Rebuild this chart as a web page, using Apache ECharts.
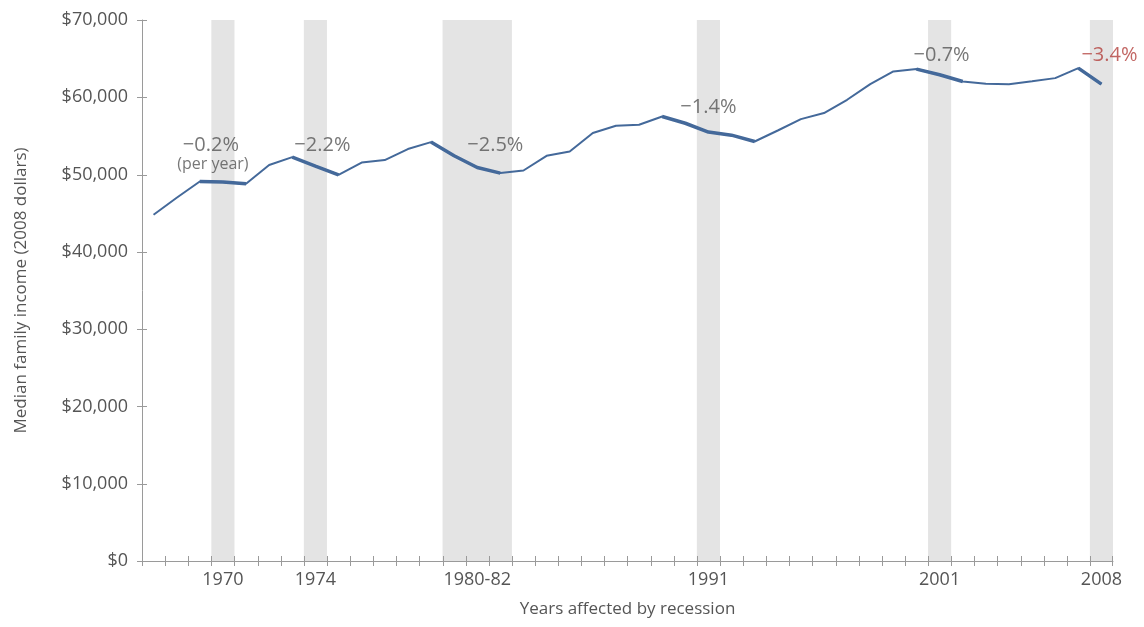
<!DOCTYPE html>
<html>
<head>
<meta charset="utf-8">
<script src="https://cdn.jsdelivr.net/npm/echarts@6/dist/echarts.min.js"></script>
<style>
  html, body { margin: 0; padding: 0; background: #ffffff; }
  #chart { width: 1144px; height: 627px; }
</style>
</head>
<body>
<div id="chart"></div>
<script>
// ---- data ----
const years = ['1967','1968','1969','1970','1971','1972','1973','1974','1975','1976',
  '1977','1978','1979','1980','1981','1982','1983','1984','1985','1986',
  '1987','1988','1989','1990','1991','1992','1993','1994','1995','1996',
  '1997','1998','1999','2000','2001','2002','2003','2004','2005','2006',
  '2007','2008'];
const income = [44800, 47000, 49110, 49030, 48810, 51230, 52260, 51100, 49970, 51560,
  51870, 53300, 54200, 52430, 50920, 50190, 50530, 52430, 52990, 55370,
  56310, 56440, 57520, 56640, 55500, 55100, 54280, 55700, 57170, 57960,
  59680, 61700, 63340, 63650, 62910, 62040, 61750, 61700, 62070, 62480,
  63780, 61700];
const recessionPeriods = [['1970','1970'],['1974','1974'],['1980','1982'],['1991','1991'],['2001','2001'],['2008','2008']];
const declineRanges = [['1969','1971'],['1973','1975'],['1979','1982'],['1989','1993'],['2000','2002'],['2007','2008']];
const tickLabels = { '1970': '1970', '1974': '1974', '1981': '1980-82', '1991': '1991', '2001': '2001', '2008': '2008' };
const yTicks = [0, 10000, 20000, 30000, 40000, 50000, 60000, 70000];
const noteTexts = ['\u22120.2%', '(per year)', '\u22122.2%', '\u22122.5%', '\u22121.4%', '\u22120.7%', '\u22123.4%'];
const noteYears = ['1970', '1970', '1974', '1982', '1991', '2001', '2008'];
const noteValues = [53730, 51270, 53730, 53730, 58640, 65370, 65370];
const yMax = 70000;

// ---- styles ----
const FONT = '"Open Sans", "Noto Sans", sans-serif';
const TEXT = '#555555';
const AXIS = '#9a9a9a';
const LINE = '#44699a';
const BAND = '#e4e4e4';
const TICK_HALF = 5;
const noteShift = [-12, -10, 7, -5, 0, 2, 8];
const noteSize = [20, 16, 20, 20, 20, 20, 20];
const noteColor = [TEXT, TEXT, TEXT, TEXT, TEXT, TEXT, '#b3403c'];

const bandData = recessionPeriods.map(p => [years.indexOf(p[0]), years.indexOf(p[1])]);
const boldData = years.map((y, i) => {
  const inRange = declineRanges.some(r => y >= r[0] && y <= r[1]);
  return inRange ? income[i] : null;
});
const noteData = noteTexts.map((t, i) => ({
  value: [noteYears[i], noteValues[i]],
  label: {
    formatter: t,
    offset: [noteShift[i], 0],
    fontSize: noteSize[i],
    color: noteColor[i]
  }
}));
const xTickData = years.map((y, i) => [i, 0]);
const yTickData = yTicks.map(v => [0, v]);

function tickLine(x1, y1, x2, y2) {
  return { type: 'line', shape: { x1, y1, x2, y2 }, style: { stroke: AXIS, lineWidth: 1 } };
}

const chart = echarts.init(document.getElementById('chart'), null, { renderer: 'canvas' });
chart.setOption({
  animation: false,
  backgroundColor: '#ffffff',
  textStyle: { fontFamily: FONT },
  grid: { left: 142, right: 31, top: 20, bottom: 66, containLabel: false },
  xAxis: {
    type: 'category', data: years, position: 'bottom', boundaryGap: true,
    name: 'Years affected by recession', nameLocation: 'middle', nameGap: 40,
    nameTextStyle: { fontSize: 17, color: TEXT, fontFamily: FONT },
    axisLine: { show: true, lineStyle: { color: AXIS, width: 1 } },
    axisTick: { show: false },
    axisLabel: {
      interval: 0, margin: 10, fontSize: 18, color: TEXT, fontFamily: FONT,
      formatter: v => tickLabels[v] || ''
    },
    splitLine: { show: false }
  },
  yAxis: {
    type: 'value', min: 0, max: yMax, interval: 10000, position: 'left',
    name: 'Median family income (2008 dollars)', nameLocation: 'middle', nameGap: 112,
    nameTextStyle: { fontSize: 17, color: TEXT, fontFamily: FONT },
    axisLine: { show: true, lineStyle: { color: AXIS, width: 1 } },
    axisTick: { show: false },
    axisLabel: {
      margin: 14, fontSize: 18, color: TEXT, fontFamily: FONT,
      formatter: v => '$' + v.toLocaleString('en-US')
    },
    splitLine: { show: false }
  },
  series: [
    {
      name: 'Recession', type: 'custom', data: bandData,
      dimensions: ['from', 'to'],
      encode: { x: [0, 1] },
      renderItem: (params, api) => {
        const a = api.coord([api.value(0), 0]);
        const b = api.coord([api.value(1), yMax]);
        const w = api.size([1, 0])[0];
        return {
          type: 'rect',
          shape: { x: a[0] - w / 2, y: b[1], width: b[0] - a[0] + w, height: a[1] - b[1] },
          style: { fill: BAND }
        };
      },
      silent: true, z: 1
    },
    {
      name: 'Income', type: 'line', data: income,
      symbol: 'none', smooth: false,
      lineStyle: { color: LINE, width: 2 },
      z: 3
    },
    {
      name: 'Decline', type: 'line', data: boldData,
      symbol: 'none', connectNulls: false,
      lineStyle: { color: LINE, width: 3.5 },
      z: 4
    },
    {
      name: 'Notes', type: 'scatter', data: noteData,
      symbolSize: 1, itemStyle: { color: 'rgba(0,0,0,0)' },
      label: { show: true, position: 'inside', fontFamily: FONT },
      silent: true, z: 5
    },
    {
      name: 'XTicks', type: 'custom', data: xTickData,
      encode: { x: 0, y: 1 },
      renderItem: (params, api) => {
        const idx = api.value(0);
        const p = api.coord([idx, 0]);
        const w = api.size([1, 0])[0];
        const y = p[1];
        const xl = Math.round(p[0] - w / 2) + 0.5;
        const children = [tickLine(xl, y - TICK_HALF, xl, y + TICK_HALF)];
        if (idx === years.length - 1) {
          const xr = Math.round(p[0] + w / 2) - 0.5;
          children.push(tickLine(xr, y - TICK_HALF, xr, y + TICK_HALF));
        }
        return { type: 'group', children };
      },
      clip: false, silent: true, z: 6
    },
    {
      name: 'YTicks', type: 'custom', data: yTickData,
      encode: { x: 0, y: 1 },
      renderItem: (params, api) => {
        const p = api.coord([0, api.value(1)]);
        const w = api.size([1, 0])[0];
        const x = p[0] - w / 2;
        const y = Math.round(p[1]) + 0.5;
        return tickLine(x - TICK_HALF, y, x + TICK_HALF, y);
      },
      clip: false, silent: true, z: 6
    }
  ]
});
</script>
</body>
</html>
